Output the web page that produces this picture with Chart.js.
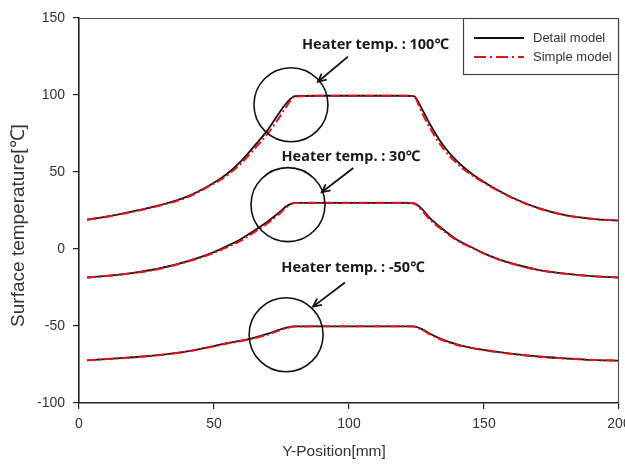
<!DOCTYPE html>
<html>
<head>
<meta charset="utf-8">
<script src="https://cdn.jsdelivr.net/npm/chart.js@4.4.0/dist/chart.umd.min.js"></script>
<style>
  html, body { margin: 0; padding: 0; background: #fff; }
  #wrap { width: 625px; height: 464px; position: relative; }
</style>
</head>
<body>
<div id="wrap"><canvas id="c" width="625" height="464"></canvas></div>
<script>
// ---- data ----
const xPositions = [3, 10, 20, 30, 40, 50, 55, 60, 65, 70, 74, 77, 80, 90, 100, 110, 120, 124, 127, 130, 135, 140, 145, 150, 155, 160, 170, 180, 190, 200];

const detail100 = [19, 21, 24.5, 28.5, 34, 43, 49, 57, 67, 77.5, 88, 95, 99.3, 99.5, 99.5, 99.5, 99.5, 99.3, 91, 81, 67, 57, 49.5, 43.5, 38.3, 33.8, 26.7, 22, 19.6, 18.4];
const simple100 = [19, 20.8, 24.2, 28.2, 33.5, 42.5, 48, 55.5, 65, 75, 85, 93, 99, 99.5, 99.5, 99.5, 99.5, 99, 88.5, 78.5, 65, 55.5, 48.5, 43, 38, 33.5, 26.5, 22, 19.6, 18.4];

const detail30 = [-18.5, -17.5, -15.5, -12.5, -8, -2, 2, 6.5, 12, 18, 23.5, 28, 29.9, 30, 30, 30, 30, 29.8, 26, 20, 12.5, 6, 1.5, -2.8, -6.4, -9.2, -13.5, -16, -17.6, -18.5];
const simple30 = [-18.5, -17.6, -15.7, -12.8, -8.3, -2.5, 1.3, 5.5, 11, 17, 22.5, 27.3, 29.8, 30, 30, 30, 30, 29.6, 25, 19, 11.8, 5.5, 1.2, -3, -6.6, -9.4, -13.6, -16.1, -17.6, -18.5];

const detailM50 = [-72.3, -71.5, -70.3, -68.8, -66.5, -63, -61, -59.5, -57.5, -55, -52.5, -51, -50.3, -50.2, -50.2, -50.2, -50.2, -50.3, -52, -55, -59, -62, -64, -65.5, -66.8, -68, -69.8, -71, -72, -72.5];
const simpleM50 = [-72.3, -71.5, -70.4, -68.9, -66.6, -63.2, -61.3, -59.8, -58, -55.6, -53, -51.3, -50.4, -50.2, -50.2, -50.2, -50.2, -50.4, -52.4, -55.5, -59.4, -62.3, -64.2, -65.7, -66.9, -68.1, -69.9, -71, -72, -72.5];

const xTicks = [0, 50, 100, 150, 200];
const yTicks = [-100, -50, 0, 50, 100, 150];

const seriesNames = ['Detail model', 'Simple model'];
const annotationLabels = ['Heater temp. : 100℃', 'Heater temp. : 30℃', 'Heater temp. : -50℃'];
// annotation anchors in data units: [labelX, labelY, circleX, circleY, arrowFromX, arrowFromY, arrowToX, arrowToY]
const annotationAnchors = [
  [109.8, 132.8, 78.5, 93.7, 99.6, 124.9, 88.5, 108.6],
  [100.7, 60.0, 77.4, 28.8, 101.6, 52.6, 89.9, 36.8],
  [101.5, -12.3, 76.7, -55.7, 98.5, -21.8, 86.7, -37.4]
];
const circleRadiusX = 13.7; // in x-axis units
const xTitle = 'Y-Position[mm]';
const yTitle = 'Surface temperature[℃]';

// ---- build chart ----
function pts(ys) { return xPositions.map((x, i) => ({ x: x, y: ys[i] })); }

const BLACK = '#111111';
const RED = '#e8121c';
const lineBase = { pointRadius: 0, cubicInterpolationMode: 'monotone', fill: false };

const datasets = [
  Object.assign({ label: seriesNames[1], data: pts(simple100), borderColor: RED, borderWidth: 2, borderDash: [9, 3, 2, 3], order: 0 }, lineBase),
  Object.assign({ label: seriesNames[1], data: pts(simple30), borderColor: RED, borderWidth: 2, borderDash: [9, 3, 2, 3], order: 0 }, lineBase),
  Object.assign({ label: seriesNames[1], data: pts(simpleM50), borderColor: RED, borderWidth: 2, borderDash: [9, 3, 2, 3], order: 0 }, lineBase),
  Object.assign({ label: seriesNames[0], data: pts(detail100), borderColor: BLACK, borderWidth: 1.8, order: 1 }, lineBase),
  Object.assign({ label: seriesNames[0], data: pts(detail30), borderColor: BLACK, borderWidth: 1.8, order: 1 }, lineBase),
  Object.assign({ label: seriesNames[0], data: pts(detailM50), borderColor: BLACK, borderWidth: 1.8, order: 1 }, lineBase)
];

const decorPlugin = {
  id: 'decor',
  afterDatasetsDraw(chart) {
    const ctx = chart.ctx;
    const ca = chart.chartArea;
    const xs = chart.scales.x, ys = chart.scales.y;
    ctx.save();
    // top & right frame
    ctx.strokeStyle = '#555';
    ctx.lineWidth = 1.2;
    ctx.beginPath();
    ctx.moveTo(ca.left, ca.top + 0.5);
    ctx.lineTo(ca.right - 0.5, ca.top + 0.5);
    ctx.lineTo(ca.right - 0.5, ca.bottom);
    ctx.stroke();

    // annotations
    annotationAnchors.forEach((a, i) => {
      const cx = xs.getPixelForValue(a[2]), cy = ys.getPixelForValue(a[3]);
      const r = xs.getPixelForValue(a[2] + circleRadiusX) - cx;
      ctx.strokeStyle = '#111';
      ctx.lineWidth = 1.6;
      ctx.beginPath();
      ctx.arc(cx, cy, r, 0, Math.PI * 2);
      ctx.stroke();
      // arrow
      const x1 = xs.getPixelForValue(a[4]), y1 = ys.getPixelForValue(a[5]);
      const x2 = xs.getPixelForValue(a[6]), y2 = ys.getPixelForValue(a[7]);
      ctx.lineWidth = 1.8;
      ctx.beginPath();
      ctx.moveTo(x1, y1);
      ctx.lineTo(x2, y2);
      ctx.stroke();
      const ang = Math.atan2(y2 - y1, x2 - x1);
      const hl = 9, hw = 0.45;
      ctx.beginPath();
      ctx.moveTo(x2 - hl * Math.cos(ang - hw), y2 - hl * Math.sin(ang - hw));
      ctx.lineTo(x2, y2);
      ctx.lineTo(x2 - hl * Math.cos(ang + hw), y2 - hl * Math.sin(ang + hw));
      ctx.stroke();
      // label
      ctx.fillStyle = '#1a1a1a';
      ctx.font = 'bold 14.5px "Noto Sans", "DejaVu Sans", sans-serif';
      ctx.textAlign = 'center';
      ctx.textBaseline = 'middle';
      ctx.fillText(annotationLabels[i], xs.getPixelForValue(a[0]), ys.getPixelForValue(a[1]));
    });

    // legend box
    const bw = 156, bh = 57;
    const bx = ca.right - bw, by = ca.top;
    ctx.strokeStyle = '#444';
    ctx.lineWidth = 1.2;
    ctx.fillStyle = '#fff';
    ctx.fillRect(bx, by, bw, bh);
    ctx.strokeRect(bx + 0.5, by + 0.5, bw - 1, bh - 1);
    ctx.lineWidth = 2;
    ctx.strokeStyle = BLACK;
    ctx.beginPath(); ctx.moveTo(bx + 11, by + 20); ctx.lineTo(bx + 61, by + 20); ctx.stroke();
    ctx.strokeStyle = RED;
    ctx.setLineDash([12, 4, 2, 4]);
    ctx.beginPath(); ctx.moveTo(bx + 11, by + 39); ctx.lineTo(bx + 61, by + 39); ctx.stroke();
    ctx.setLineDash([]);
    ctx.fillStyle = '#333';
    ctx.font = '13px "Liberation Sans", Arial, sans-serif';
    ctx.textAlign = 'left';
    ctx.textBaseline = 'middle';
    ctx.fillText(seriesNames[0], bx + 70, by + 20);
    ctx.fillText(seriesNames[1], bx + 70, by + 39);

    // axis titles
    ctx.fillStyle = '#333';
    ctx.font = '15.5px "Liberation Sans", Arial, sans-serif';
    ctx.textAlign = 'center';
    ctx.textBaseline = 'middle';
    ctx.fillText(xTitle, (ca.left + ca.right) / 2 - 15, 452);
    ctx.font = '19px "Liberation Sans", Arial, sans-serif';
    ctx.translate(19, (ca.top + ca.bottom) / 2 + 15);
    ctx.rotate(-Math.PI / 2);
    ctx.fillText(yTitle, 0, 0);
    ctx.restore();
  }
};

new Chart(document.getElementById('c'), {
  type: 'line',
  data: { datasets: datasets },
  options: {
    responsive: false,
    animation: false,
    devicePixelRatio: 1,
    layout: { padding: { top: 18, right: 6, left: 0, bottom: 0 } },
    plugins: { legend: { display: false }, tooltip: { enabled: false } },
    scales: {
      x: {
        type: 'linear', min: 0, max: 200,
        afterBuildTicks: (s) => { s.ticks = xTicks.map(v => ({ value: v })); },
        afterFit: (s) => { s.height = 61; s.paddingLeft = 0; s.paddingRight = 0; },
        grid: { drawOnChartArea: false, drawTicks: true, tickLength: 6, color: '#222', lineWidth: 1.2 },
        border: { display: true, color: '#222', width: 1.6 },
        ticks: { color: '#333', padding: 7, font: { family: '"Liberation Sans", Arial, sans-serif', size: 14 }, maxRotation: 0 }
      },
      y: {
        type: 'linear', min: -100, max: 150,
        afterBuildTicks: (s) => { s.ticks = yTicks.map(v => ({ value: v })); },
        afterFit: (s) => { s.width = 79; s.paddingTop = 0; s.paddingBottom = 0; },
        grid: { drawOnChartArea: false, drawTicks: true, tickLength: 6, color: '#222', lineWidth: 1.2 },
        border: { display: true, color: '#222', width: 1.6 },
        ticks: { color: '#333', padding: 8, font: { family: '"Liberation Sans", Arial, sans-serif', size: 14 } }
      }
    }
  },
  plugins: [decorPlugin]
});
</script>
</body>
</html>
